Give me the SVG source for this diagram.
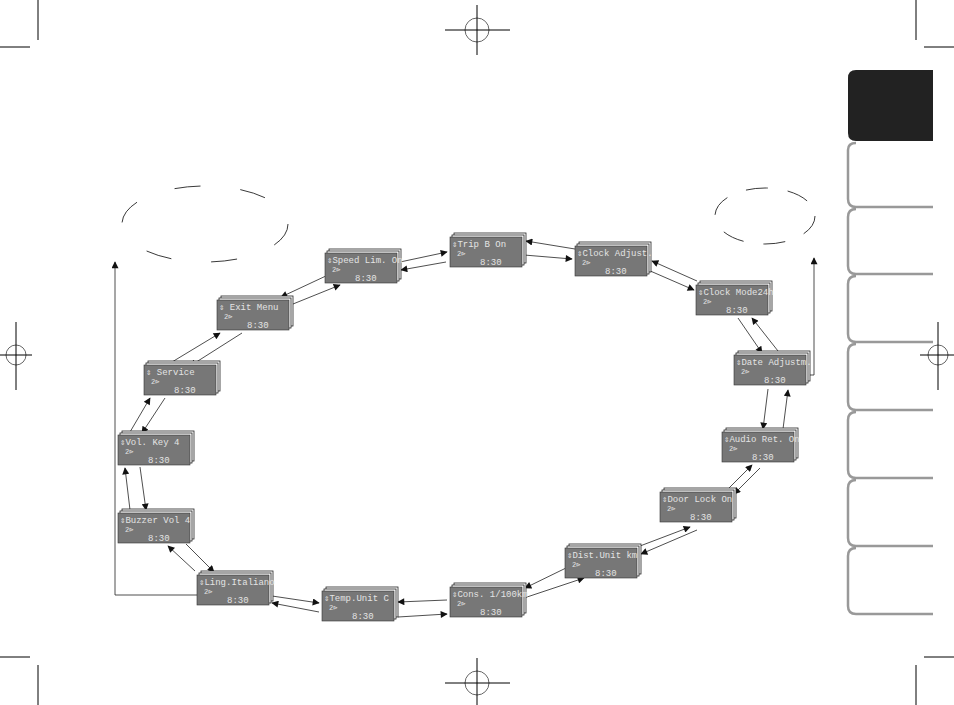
<svg xmlns="http://www.w3.org/2000/svg" width="954" height="705" viewBox="0 0 954 705">
<defs>
<marker id="ah" viewBox="0 0 10 10" refX="9" refY="5" markerWidth="9" markerHeight="7" orient="auto" markerUnits="userSpaceOnUse"><path d="M0,0L10,5L0,10z" fill="#111"/></marker>
<g id="stk"><rect x="4" y="-4" width="72" height="30" fill="#fff" stroke="#222" stroke-width="0.8"/><rect x="2" y="-2" width="72" height="30" fill="#fff" stroke="#222" stroke-width="0.8"/><rect x="0" y="0" width="72" height="30" fill="#777" stroke="#333" stroke-width="0.6"/><text x="7" y="19" class="s">2⊳</text><text x="30" y="28" class="t">8:30</text></g>
</defs>
<style>
.t{font-family:"Liberation Mono",monospace;font-size:9px;fill:#e4e4e4}
.s{font-family:"Liberation Mono",monospace;font-size:7px;fill:#e4e4e4}
.c line{stroke:#222;stroke-width:0.8;marker-end:url(#ah)}
.cm{stroke:#000;stroke-width:1;fill:none}
.tab{fill:#fff;stroke:#999;stroke-width:2.5}
</style>
<rect width="954" height="705" fill="#fff"/>
<g id="crop" class="cm">
<line x1="38" y1="0" x2="38" y2="40"/><line x1="0" y1="47" x2="30" y2="47"/>
<line x1="916" y1="0" x2="916" y2="40"/><line x1="924" y1="47" x2="954" y2="47"/>
<line x1="38" y1="665" x2="38" y2="705"/><line x1="0" y1="657" x2="30" y2="657"/>
<line x1="916" y1="665" x2="916" y2="705"/><line x1="924" y1="657" x2="954" y2="657"/>
<circle cx="477" cy="30" r="12" stroke="#666"/><line x1="477" y1="5" x2="477" y2="55"/><line x1="445" y1="30" x2="510" y2="30"/>
<circle cx="477" cy="683" r="12" stroke="#666"/><line x1="477" y1="658" x2="477" y2="705"/><line x1="445" y1="683" x2="510" y2="683"/>
<circle cx="16" cy="355" r="10" stroke="#666"/><line x1="16" y1="322" x2="16" y2="390"/><line x1="0" y1="355" x2="32" y2="355"/>
<circle cx="938" cy="355" r="10" stroke="#666"/><line x1="938" y1="322" x2="938" y2="390"/><line x1="920" y1="355" x2="954" y2="355"/>
</g>
<g id="tabs">
<path d="M933,70 H856 Q848,70 848,78 V133 Q848,141 856,141 H933z" fill="#222"/>
<path class="tab" d="M933,207 H856 Q848,207 848,199 V150 Q848,143 856,143"/>
<path class="tab" d="M933,274 H856 Q848,274 848,266 V217 Q848,209 856,209"/>
<path class="tab" d="M933,342 H856 Q848,342 848,334 V284 Q848,276 856,276"/>
<path class="tab" d="M933,410 H856 Q848,410 848,402 V352 Q848,344 856,344"/>
<path class="tab" d="M933,478 H856 Q848,478 848,470 V420 Q848,412 856,412"/>
<path class="tab" d="M933,546 H856 Q848,546 848,538 V488 Q848,480 856,480"/>
<path class="tab" d="M933,614 H856 Q848,614 848,606 V556 Q848,548 856,548"/>
</g>
<ellipse cx="205" cy="224" rx="83" ry="38" fill="none" stroke="#222" stroke-width="0.9" stroke-dasharray="26,40"/>
<ellipse cx="765" cy="216" rx="50" ry="28" fill="none" stroke="#222" stroke-width="0.9" stroke-dasharray="22,20"/>
<g id="connectors" class="c">
<polyline points="197,595 115,595 115,262" fill="none" stroke="#222" stroke-width="0.8" marker-end="url(#ah)"/>
<polyline points="806,375 814,375 814,258" fill="none" stroke="#222" stroke-width="0.8" marker-end="url(#ah)"/>
<line x1="575" y1="249" x2="526" y2="241"/><line x1="524" y1="255" x2="572" y2="259"/>
<line x1="697" y1="281" x2="652" y2="261"/><line x1="648" y1="270" x2="694" y2="290"/>
<line x1="738" y1="318" x2="762" y2="353"/><line x1="778" y1="351" x2="752" y2="318"/>
<line x1="768" y1="389" x2="763" y2="429"/><line x1="783" y1="429" x2="788" y2="390"/>
<line x1="727" y1="490" x2="752" y2="465"/><line x1="760" y1="468" x2="734" y2="494"/>
<line x1="640" y1="546" x2="690" y2="527"/><line x1="697" y1="530" x2="641" y2="554"/>
<line x1="524" y1="598" x2="584" y2="578"/><line x1="566" y1="568" x2="525" y2="588"/>
<line x1="447" y1="600" x2="398" y2="602"/><line x1="398" y1="617" x2="447" y2="614"/>
<line x1="272" y1="596" x2="319" y2="603"/><line x1="319" y1="612" x2="272" y2="603"/>
<line x1="195" y1="571" x2="168" y2="546"/><line x1="186" y1="544" x2="214" y2="572"/>
<line x1="130" y1="510" x2="125" y2="468"/><line x1="140" y1="467" x2="146" y2="510"/>
<line x1="130" y1="432" x2="150" y2="398"/><line x1="165" y1="398" x2="142" y2="433"/>
<line x1="172" y1="362" x2="220" y2="333"/><line x1="242" y1="333" x2="190" y2="366"/>
<line x1="328" y1="275" x2="281" y2="297"/><line x1="293" y1="304" x2="340" y2="285"/>
<line x1="400" y1="262" x2="447" y2="252"/><line x1="446" y1="262" x2="401" y2="270"/>
</g>
<g id="n1" transform="translate(450,237)"><use href="#stk"/><text x="2" y="10" class="t">⇕Trip B    On</text></g>
<g id="n2" transform="translate(575,246)"><use href="#stk"/><text x="2" y="10" class="t">⇕Clock Adjust.</text></g>
<g id="n3" transform="translate(696,285)"><use href="#stk"/><text x="2" y="10" class="t">⇕Clock Mode24h</text></g>
<g id="n4" transform="translate(734,355)"><use href="#stk"/><text x="2" y="10" class="t">⇕Date Adjustm.</text></g>
<g id="n5" transform="translate(722,432)"><use href="#stk"/><text x="2" y="10" class="t">⇕Audio Ret. On</text></g>
<g id="n6" transform="translate(660,492)"><use href="#stk"/><text x="2" y="10" class="t">⇕Door Lock On</text></g>
<g id="n7" transform="translate(565,548)"><use href="#stk"/><text x="2" y="10" class="t">⇕Dist.Unit km</text></g>
<g id="n8" transform="translate(450,587)"><use href="#stk"/><text x="2" y="10" class="t">⇕Cons. 1/100km</text></g>
<g id="n9" transform="translate(322,591)"><use href="#stk"/><text x="2" y="10" class="t">⇕Temp.Unit  C</text></g>
<g id="n10" transform="translate(197,575)"><use href="#stk"/><text x="2" y="10" class="t">⇕Ling.Italiano</text></g>
<g id="n11" transform="translate(118,513)"><use href="#stk"/><text x="2" y="10" class="t">⇕Buzzer Vol 4</text></g>
<g id="n12" transform="translate(118,435)"><use href="#stk"/><text x="2" y="10" class="t">⇕Vol. Key  4</text></g>
<g id="n13" transform="translate(144,365)"><use href="#stk"/><text x="2" y="10" class="t">⇕   Service</text></g>
<g id="n14" transform="translate(217,300)"><use href="#stk"/><text x="2" y="10" class="t">⇕  Exit Menu</text></g>
<g id="n15" transform="translate(325,253)"><use href="#stk"/><text x="2" y="10" class="t">⇕Speed Lim. On</text></g>
</svg>
